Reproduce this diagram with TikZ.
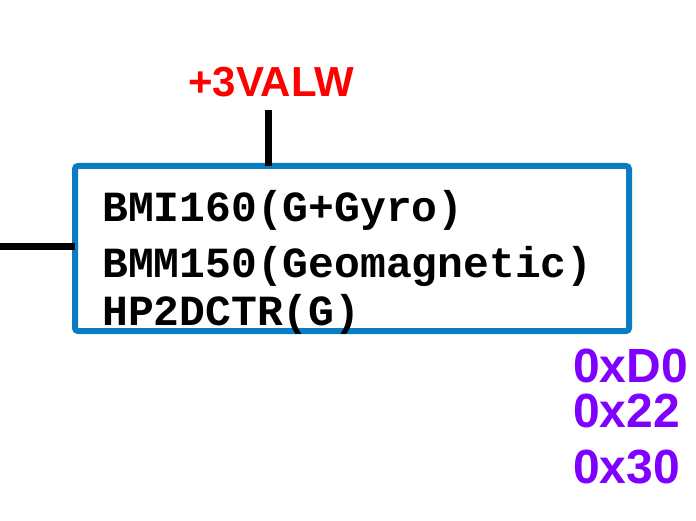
\documentclass[tikz,border=0pt]{standalone}
\usepackage{fontspec}
\setmainfont{Liberation Sans}
\newfontfamily\monof{Liberation Mono}
\definecolor{boxblue}{HTML}{0A7DC2}
\definecolor{addrpurple}{HTML}{8000FF}
\definecolor{railred}{HTML}{FF0000}
\begin{document}
\begin{tikzpicture}[x=1pt,y=-1pt,
  wire/.style={line width=7pt,black},
  chip/.style={draw=boxblue,line width=6pt,rounded corners=3pt,fill=white,inner sep=0pt,outer sep=0pt},
  mono/.style={anchor=base west,inner sep=0pt,font=\monof\bfseries\fontsize{43}{43}\selectfont},
  addr/.style={anchor=base west,inner sep=0pt,text=addrpurple,font=\bfseries\fontsize{48}{48}\selectfont},
  rail/.style={anchor=base west,inner sep=0pt,text=railred,font=\bfseries\fontsize{42}{42}\selectfont}]
\useasboundingbox (0,0) rectangle (696,521);
\node[chip,minimum width=554pt,minimum height=165pt,anchor=north west] (box) at (75,166) {};
\coordinate (vtop) at (268,110);
\coordinate (lend) at (0,247);
\draw[wire] (vtop) -- (vtop |- box.north);
\draw[wire] (lend) -- (lend -| box.west);
\node[rail] (vcc) at (188,97) {+3VALW};
\node[mono] (l1) at (102,222) {BMI160(G+Gyro)};
\node[mono] (l2) at (102,278) {BMM150(Geomagnetic)};
\node[mono] (l3) at (102,325) {HP2DCTR(G)};
\node[addr] (a1) at (573,382) {0xD0};
\node[addr] (a2) at (573,427) {0x22};
\node[addr] (a3) at (573,483) {0x30};
\end{tikzpicture}
\end{document}
